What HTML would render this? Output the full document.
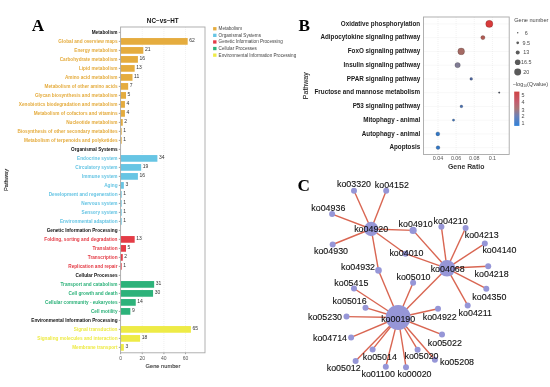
<!DOCTYPE html>
<html><head><meta charset="utf-8"><style>
html,body{margin:0;padding:0;background:#fff;width:550px;height:387px;overflow:hidden}
svg{display:block;will-change:transform}
text{font-family:"Liberation Sans",sans-serif;dominant-baseline:central}
.lab{font-size:4.7px;font-weight:bold;text-anchor:end}
.num{font-size:5px;fill:#333}
.tick{font-size:5px;fill:#555}
.axt{font-size:5.7px;fill:#333;stroke:#333;stroke-width:0.1px}
.axt2{font-size:5.8px;fill:#222;stroke:#222;stroke-width:0.12px}
.title{font-size:6.3px;font-weight:bold;fill:#111}
.leg{font-size:4.6px;fill:#444}
.pl{font-family:"Liberation Serif",serif;font-weight:bold;font-size:17.2px;fill:#000;dominant-baseline:alphabetic}
.blab{font-size:6.3px;font-weight:bold;fill:#1a1a1a;text-anchor:end}
.btick{font-size:5.4px;fill:#555}
.baxt{font-size:6.9px;font-weight:bold;fill:#333}
.baxt2{font-size:7px;fill:#222;stroke:#222;stroke-width:0.1px}
.bleg{font-size:5.6px;fill:#444}
.bleg2{font-size:5.4px;fill:#4a4a4a}
.net{font-size:8.9px;fill:#111;stroke:#111;stroke-width:0.12px}
</style></head><body>
<svg width="550" height="387" viewBox="0 0 550 387">
<rect width="550" height="387" fill="#fff"/>
<line x1="142.24" y1="27.0" x2="142.24" y2="352.8" stroke="#e2e2e2" stroke-width="0.5" stroke-dasharray="1 1"/>
<line x1="163.88" y1="27.0" x2="163.88" y2="352.8" stroke="#e2e2e2" stroke-width="0.5" stroke-dasharray="1 1"/>
<line x1="185.52" y1="27.0" x2="185.52" y2="352.8" stroke="#e2e2e2" stroke-width="0.5" stroke-dasharray="1 1"/>
<text x="117.5" y="32.90" class="lab" fill="#111">Metabolism</text>
<line x1="118.8" y1="32.40" x2="120.6" y2="32.40" stroke="#444" stroke-width="0.5"/>
<rect x="120.6" y="38.05" width="67.08" height="6.7" fill="#e5ac3e"/>
<text x="189.28" y="39.90" class="num">62</text>
<text x="117.5" y="41.90" class="lab" fill="#e5ac3e">Global and overview maps</text>
<line x1="118.8" y1="41.40" x2="120.6" y2="41.40" stroke="#444" stroke-width="0.5"/>
<rect x="120.6" y="47.05" width="22.72" height="6.7" fill="#e5ac3e"/>
<text x="144.92" y="48.90" class="num">21</text>
<text x="117.5" y="50.90" class="lab" fill="#e5ac3e">Energy metabolism</text>
<line x1="118.8" y1="50.40" x2="120.6" y2="50.40" stroke="#444" stroke-width="0.5"/>
<rect x="120.6" y="56.05" width="17.31" height="6.7" fill="#e5ac3e"/>
<text x="139.51" y="57.90" class="num">16</text>
<text x="117.5" y="59.90" class="lab" fill="#e5ac3e">Carbohydrate metabolism</text>
<line x1="118.8" y1="59.40" x2="120.6" y2="59.40" stroke="#444" stroke-width="0.5"/>
<rect x="120.6" y="65.05" width="14.07" height="6.7" fill="#e5ac3e"/>
<text x="136.27" y="66.90" class="num">13</text>
<text x="117.5" y="68.90" class="lab" fill="#e5ac3e">Lipid metabolism</text>
<line x1="118.8" y1="68.40" x2="120.6" y2="68.40" stroke="#444" stroke-width="0.5"/>
<rect x="120.6" y="74.05" width="11.90" height="6.7" fill="#e5ac3e"/>
<text x="134.10" y="75.90" class="num">11</text>
<text x="117.5" y="77.90" class="lab" fill="#e5ac3e">Amino acid metabolism</text>
<line x1="118.8" y1="77.40" x2="120.6" y2="77.40" stroke="#444" stroke-width="0.5"/>
<rect x="120.6" y="83.05" width="7.57" height="6.7" fill="#e5ac3e"/>
<text x="129.77" y="84.90" class="num">7</text>
<text x="117.5" y="86.90" class="lab" fill="#e5ac3e">Metabolism of other amino acids</text>
<line x1="118.8" y1="86.40" x2="120.6" y2="86.40" stroke="#444" stroke-width="0.5"/>
<rect x="120.6" y="92.05" width="5.41" height="6.7" fill="#e5ac3e"/>
<text x="127.61" y="93.90" class="num">5</text>
<text x="117.5" y="95.90" class="lab" fill="#e5ac3e">Glycan biosynthesis and metabolism</text>
<line x1="118.8" y1="95.40" x2="120.6" y2="95.40" stroke="#444" stroke-width="0.5"/>
<rect x="120.6" y="101.05" width="4.33" height="6.7" fill="#e5ac3e"/>
<text x="126.53" y="102.90" class="num">4</text>
<text x="117.5" y="104.90" class="lab" fill="#e5ac3e">Xenobiotics biodegradation and metabolism</text>
<line x1="118.8" y1="104.40" x2="120.6" y2="104.40" stroke="#444" stroke-width="0.5"/>
<rect x="120.6" y="110.05" width="4.33" height="6.7" fill="#e5ac3e"/>
<text x="126.53" y="111.90" class="num">4</text>
<text x="117.5" y="113.90" class="lab" fill="#e5ac3e">Metabolism of cofactors and vitamins</text>
<line x1="118.8" y1="113.40" x2="120.6" y2="113.40" stroke="#444" stroke-width="0.5"/>
<rect x="120.6" y="119.05" width="2.16" height="6.7" fill="#e5ac3e"/>
<text x="124.36" y="120.90" class="num">2</text>
<text x="117.5" y="122.90" class="lab" fill="#e5ac3e">Nucleotide metabolism</text>
<line x1="118.8" y1="122.40" x2="120.6" y2="122.40" stroke="#444" stroke-width="0.5"/>
<rect x="120.6" y="128.05" width="1.08" height="6.7" fill="#e5ac3e"/>
<text x="123.28" y="129.90" class="num">1</text>
<text x="117.5" y="131.90" class="lab" fill="#e5ac3e">Biosynthesis of other secondary metabolites</text>
<line x1="118.8" y1="131.40" x2="120.6" y2="131.40" stroke="#444" stroke-width="0.5"/>
<rect x="120.6" y="137.05" width="1.08" height="6.7" fill="#e5ac3e"/>
<text x="123.28" y="138.90" class="num">1</text>
<text x="117.5" y="140.90" class="lab" fill="#e5ac3e">Metabolism of terpenoids and polyketides</text>
<line x1="118.8" y1="140.40" x2="120.6" y2="140.40" stroke="#444" stroke-width="0.5"/>
<text x="117.5" y="149.90" class="lab" fill="#111">Organismal Systems</text>
<line x1="118.8" y1="149.40" x2="120.6" y2="149.40" stroke="#444" stroke-width="0.5"/>
<rect x="120.6" y="155.05" width="36.79" height="6.7" fill="#67c5e4"/>
<text x="158.99" y="156.90" class="num">34</text>
<text x="117.5" y="158.90" class="lab" fill="#67c5e4">Endocrine system</text>
<line x1="118.8" y1="158.40" x2="120.6" y2="158.40" stroke="#444" stroke-width="0.5"/>
<rect x="120.6" y="164.05" width="20.56" height="6.7" fill="#67c5e4"/>
<text x="142.76" y="165.90" class="num">19</text>
<text x="117.5" y="167.90" class="lab" fill="#67c5e4">Circulatory system</text>
<line x1="118.8" y1="167.40" x2="120.6" y2="167.40" stroke="#444" stroke-width="0.5"/>
<rect x="120.6" y="173.05" width="17.31" height="6.7" fill="#67c5e4"/>
<text x="139.51" y="174.90" class="num">16</text>
<text x="117.5" y="176.90" class="lab" fill="#67c5e4">Immune system</text>
<line x1="118.8" y1="176.40" x2="120.6" y2="176.40" stroke="#444" stroke-width="0.5"/>
<rect x="120.6" y="182.05" width="3.25" height="6.7" fill="#67c5e4"/>
<text x="125.45" y="183.90" class="num">3</text>
<text x="117.5" y="185.90" class="lab" fill="#67c5e4">Aging</text>
<line x1="118.8" y1="185.40" x2="120.6" y2="185.40" stroke="#444" stroke-width="0.5"/>
<rect x="120.6" y="191.05" width="1.08" height="6.7" fill="#67c5e4"/>
<text x="123.28" y="192.90" class="num">1</text>
<text x="117.5" y="194.90" class="lab" fill="#67c5e4">Development and regeneration</text>
<line x1="118.8" y1="194.40" x2="120.6" y2="194.40" stroke="#444" stroke-width="0.5"/>
<rect x="120.6" y="200.05" width="1.08" height="6.7" fill="#67c5e4"/>
<text x="123.28" y="201.90" class="num">1</text>
<text x="117.5" y="203.90" class="lab" fill="#67c5e4">Nervous system</text>
<line x1="118.8" y1="203.40" x2="120.6" y2="203.40" stroke="#444" stroke-width="0.5"/>
<rect x="120.6" y="209.05" width="1.08" height="6.7" fill="#67c5e4"/>
<text x="123.28" y="210.90" class="num">1</text>
<text x="117.5" y="212.90" class="lab" fill="#67c5e4">Sensory system</text>
<line x1="118.8" y1="212.40" x2="120.6" y2="212.40" stroke="#444" stroke-width="0.5"/>
<rect x="120.6" y="218.05" width="1.08" height="6.7" fill="#67c5e4"/>
<text x="123.28" y="219.90" class="num">1</text>
<text x="117.5" y="221.90" class="lab" fill="#67c5e4">Environmental adaptation</text>
<line x1="118.8" y1="221.40" x2="120.6" y2="221.40" stroke="#444" stroke-width="0.5"/>
<text x="117.5" y="230.90" class="lab" fill="#111">Genetic Information Processing</text>
<line x1="118.8" y1="230.40" x2="120.6" y2="230.40" stroke="#444" stroke-width="0.5"/>
<rect x="120.6" y="236.05" width="14.07" height="6.7" fill="#e43c46"/>
<text x="136.27" y="237.90" class="num">13</text>
<text x="117.5" y="239.90" class="lab" fill="#e43c46">Folding, sorting and degradation</text>
<line x1="118.8" y1="239.40" x2="120.6" y2="239.40" stroke="#444" stroke-width="0.5"/>
<rect x="120.6" y="245.05" width="5.41" height="6.7" fill="#e43c46"/>
<text x="127.61" y="246.90" class="num">5</text>
<text x="117.5" y="248.90" class="lab" fill="#e43c46">Translation</text>
<line x1="118.8" y1="248.40" x2="120.6" y2="248.40" stroke="#444" stroke-width="0.5"/>
<rect x="120.6" y="254.05" width="2.16" height="6.7" fill="#e43c46"/>
<text x="124.36" y="255.90" class="num">2</text>
<text x="117.5" y="257.90" class="lab" fill="#e43c46">Transcription</text>
<line x1="118.8" y1="257.40" x2="120.6" y2="257.40" stroke="#444" stroke-width="0.5"/>
<rect x="120.6" y="263.05" width="1.08" height="6.7" fill="#e43c46"/>
<text x="123.28" y="264.90" class="num">1</text>
<text x="117.5" y="266.90" class="lab" fill="#e43c46">Replication and repair</text>
<line x1="118.8" y1="266.40" x2="120.6" y2="266.40" stroke="#444" stroke-width="0.5"/>
<text x="117.5" y="275.90" class="lab" fill="#111">Cellular Processes</text>
<line x1="118.8" y1="275.40" x2="120.6" y2="275.40" stroke="#444" stroke-width="0.5"/>
<rect x="120.6" y="281.05" width="33.54" height="6.7" fill="#2db27a"/>
<text x="155.74" y="282.90" class="num">31</text>
<text x="117.5" y="284.90" class="lab" fill="#2db27a">Transport and catabolism</text>
<line x1="118.8" y1="284.40" x2="120.6" y2="284.40" stroke="#444" stroke-width="0.5"/>
<rect x="120.6" y="290.05" width="32.46" height="6.7" fill="#2db27a"/>
<text x="154.66" y="291.90" class="num">30</text>
<text x="117.5" y="293.90" class="lab" fill="#2db27a">Cell growth and death</text>
<line x1="118.8" y1="293.40" x2="120.6" y2="293.40" stroke="#444" stroke-width="0.5"/>
<rect x="120.6" y="299.05" width="15.15" height="6.7" fill="#2db27a"/>
<text x="137.35" y="300.90" class="num">14</text>
<text x="117.5" y="302.90" class="lab" fill="#2db27a">Cellular community - eukaryotes</text>
<line x1="118.8" y1="302.40" x2="120.6" y2="302.40" stroke="#444" stroke-width="0.5"/>
<rect x="120.6" y="308.05" width="9.74" height="6.7" fill="#2db27a"/>
<text x="131.94" y="309.90" class="num">9</text>
<text x="117.5" y="311.90" class="lab" fill="#2db27a">Cell motility</text>
<line x1="118.8" y1="311.40" x2="120.6" y2="311.40" stroke="#444" stroke-width="0.5"/>
<text x="117.5" y="320.90" class="lab" fill="#111">Environmental Information Processing</text>
<line x1="118.8" y1="320.40" x2="120.6" y2="320.40" stroke="#444" stroke-width="0.5"/>
<rect x="120.6" y="326.05" width="70.33" height="6.7" fill="#eeeb46"/>
<text x="192.53" y="327.90" class="num">65</text>
<text x="117.5" y="329.90" class="lab" fill="#eeeb46">Signal transduction</text>
<line x1="118.8" y1="329.40" x2="120.6" y2="329.40" stroke="#444" stroke-width="0.5"/>
<rect x="120.6" y="335.05" width="19.48" height="6.7" fill="#eeeb46"/>
<text x="141.68" y="336.90" class="num">18</text>
<text x="117.5" y="338.90" class="lab" fill="#eeeb46">Signaling molecules and interaction</text>
<line x1="118.8" y1="338.40" x2="120.6" y2="338.40" stroke="#444" stroke-width="0.5"/>
<rect x="120.6" y="344.05" width="3.25" height="6.7" fill="#eeeb46"/>
<text x="125.45" y="345.90" class="num">3</text>
<text x="117.5" y="347.90" class="lab" fill="#eeeb46">Membrane transport</text>
<line x1="118.8" y1="347.40" x2="120.6" y2="347.40" stroke="#444" stroke-width="0.5"/>
<rect x="120.6" y="27.0" width="84.4" height="325.8" fill="none" stroke="#a8a8a8" stroke-width="0.9"/>
<line x1="120.60" y1="352.8" x2="120.60" y2="354.2" stroke="#555" stroke-width="0.5"/>
<text x="120.60" y="358.3" class="tick" text-anchor="middle">0</text>
<line x1="142.24" y1="352.8" x2="142.24" y2="354.2" stroke="#555" stroke-width="0.5"/>
<text x="142.24" y="358.3" class="tick" text-anchor="middle">20</text>
<line x1="163.88" y1="352.8" x2="163.88" y2="354.2" stroke="#555" stroke-width="0.5"/>
<text x="163.88" y="358.3" class="tick" text-anchor="middle">40</text>
<line x1="185.52" y1="352.8" x2="185.52" y2="354.2" stroke="#555" stroke-width="0.5"/>
<text x="185.52" y="358.3" class="tick" text-anchor="middle">60</text>
<text x="163" y="366.4" class="axt" text-anchor="middle">Gene number</text>
<text x="162.8" y="20.8" class="title" text-anchor="middle">NC−vs−HT</text>
<text x="6.2" y="180" class="axt2" text-anchor="middle" transform="rotate(-90 6.2 180)">Pathway</text>
<rect x="213.1" y="27.10" width="3.4" height="3.3" fill="#e5ac3e"/>
<text x="218.6" y="28.70" class="leg">Metabolism</text>
<rect x="213.1" y="33.70" width="3.4" height="3.3" fill="#67c5e4"/>
<text x="218.6" y="35.30" class="leg">Organismal Systems</text>
<rect x="213.1" y="40.30" width="3.4" height="3.3" fill="#e43c46"/>
<text x="218.6" y="41.90" class="leg">Genetic Information Processing</text>
<rect x="213.1" y="46.90" width="3.4" height="3.3" fill="#2db27a"/>
<text x="218.6" y="48.50" class="leg">Cellular Processes</text>
<rect x="213.1" y="53.50" width="3.4" height="3.3" fill="#eeeb46"/>
<text x="218.6" y="55.10" class="leg">Environmental Information Processing</text>
<text x="31.8" y="31.0" class="pl">A</text>
<line x1="438.00" y1="17.0" x2="438.00" y2="154.5" stroke="#e2e2e2" stroke-width="0.5" stroke-dasharray="1 1"/>
<line x1="456.13" y1="17.0" x2="456.13" y2="154.5" stroke="#e2e2e2" stroke-width="0.5" stroke-dasharray="1 1"/>
<line x1="474.26" y1="17.0" x2="474.26" y2="154.5" stroke="#e2e2e2" stroke-width="0.5" stroke-dasharray="1 1"/>
<line x1="492.39" y1="17.0" x2="492.39" y2="154.5" stroke="#e2e2e2" stroke-width="0.5" stroke-dasharray="1 1"/>
<line x1="423.5" y1="23.88" x2="509.2" y2="23.88" stroke="#e2e2e2" stroke-width="0.5" stroke-dasharray="1 1"/>
<text x="420.2" y="23.07" class="blab">Oxidative phosphorylation</text>
<line x1="423.5" y1="37.62" x2="509.2" y2="37.62" stroke="#e2e2e2" stroke-width="0.5" stroke-dasharray="1 1"/>
<text x="420.2" y="36.83" class="blab">Adipocytokine signaling pathway</text>
<line x1="423.5" y1="51.38" x2="509.2" y2="51.38" stroke="#e2e2e2" stroke-width="0.5" stroke-dasharray="1 1"/>
<text x="420.2" y="50.58" class="blab">FoxO signaling pathway</text>
<line x1="423.5" y1="65.12" x2="509.2" y2="65.12" stroke="#e2e2e2" stroke-width="0.5" stroke-dasharray="1 1"/>
<text x="420.2" y="64.33" class="blab">Insulin signaling pathway</text>
<line x1="423.5" y1="78.88" x2="509.2" y2="78.88" stroke="#e2e2e2" stroke-width="0.5" stroke-dasharray="1 1"/>
<text x="420.2" y="78.08" class="blab">PPAR signaling pathway</text>
<line x1="423.5" y1="92.62" x2="509.2" y2="92.62" stroke="#e2e2e2" stroke-width="0.5" stroke-dasharray="1 1"/>
<text x="420.2" y="91.83" class="blab">Fructose and mannose metabolism</text>
<line x1="423.5" y1="106.38" x2="509.2" y2="106.38" stroke="#e2e2e2" stroke-width="0.5" stroke-dasharray="1 1"/>
<text x="420.2" y="105.58" class="blab">P53 signaling pathway</text>
<line x1="423.5" y1="120.12" x2="509.2" y2="120.12" stroke="#e2e2e2" stroke-width="0.5" stroke-dasharray="1 1"/>
<text x="420.2" y="119.33" class="blab">Mitophagy - animal</text>
<line x1="423.5" y1="133.88" x2="509.2" y2="133.88" stroke="#e2e2e2" stroke-width="0.5" stroke-dasharray="1 1"/>
<text x="420.2" y="133.07" class="blab">Autophagy - animal</text>
<line x1="423.5" y1="147.62" x2="509.2" y2="147.62" stroke="#e2e2e2" stroke-width="0.5" stroke-dasharray="1 1"/>
<text x="420.2" y="146.82" class="blab">Apoptosis</text>
<circle cx="489.3" cy="23.88" r="3.6" fill="#d83a3a" stroke="#00000055" stroke-width="0.5"/>
<circle cx="482.9" cy="37.62" r="2.1" fill="#b05a52" stroke="#00000055" stroke-width="0.5"/>
<circle cx="461.2" cy="51.38" r="3.4" fill="#a56a64" stroke="#00000055" stroke-width="0.5"/>
<circle cx="457.6" cy="65.12" r="2.7" fill="#807c94" stroke="#00000055" stroke-width="0.5"/>
<circle cx="471.2" cy="78.88" r="1.4" fill="#5068a2" stroke="#00000055" stroke-width="0.5"/>
<circle cx="499.2" cy="92.62" r="0.8" fill="#404858" stroke="#00000055" stroke-width="0.5"/>
<circle cx="461.4" cy="106.38" r="1.4" fill="#4a70b0" stroke="#00000055" stroke-width="0.5"/>
<circle cx="453.5" cy="120.12" r="1.2" fill="#3f72b8" stroke="#00000055" stroke-width="0.5"/>
<circle cx="437.8" cy="133.88" r="2.0" fill="#3277c6" stroke="#00000055" stroke-width="0.5"/>
<circle cx="438.0" cy="147.62" r="1.9" fill="#3277c6" stroke="#00000055" stroke-width="0.5"/>
<rect x="423.5" y="17.0" width="85.70" height="137.5" fill="none" stroke="#a8a8a8" stroke-width="0.9"/>
<text x="438.00" y="158.2" class="btick" text-anchor="middle">0.04</text>
<text x="456.13" y="158.2" class="btick" text-anchor="middle">0.06</text>
<text x="474.26" y="158.2" class="btick" text-anchor="middle">0.08</text>
<text x="492.39" y="158.2" class="btick" text-anchor="middle">0.1</text>
<text x="466.2" y="166.4" class="baxt" text-anchor="middle">Gene Ratio</text>
<text x="305.6" y="85.7" class="baxt2" text-anchor="middle" transform="rotate(-90 305.6 85.7)">Pathway</text>
<text x="514.2" y="20.2" class="bleg">Gene number</text>
<circle cx="517.7" cy="32.7" r="0.75" fill="#5a5a5a"/>
<text x="526.2" y="32.7" class="bleg2" text-anchor="middle">6</text>
<circle cx="517.7" cy="42.8" r="1.35" fill="#5a5a5a"/>
<text x="526.2" y="42.8" class="bleg2" text-anchor="middle">9.5</text>
<circle cx="517.7" cy="52.4" r="2.0" fill="#5a5a5a"/>
<text x="526.2" y="52.4" class="bleg2" text-anchor="middle">13</text>
<circle cx="517.7" cy="62.2" r="2.8" fill="#5a5a5a"/>
<text x="526.2" y="62.2" class="bleg2" text-anchor="middle">16.5</text>
<circle cx="517.7" cy="72.0" r="3.45" fill="#5a5a5a"/>
<text x="526.2" y="72.0" class="bleg2" text-anchor="middle">20</text>
<text x="512.7" y="84.3" class="bleg" style="font-size:5.5px">−log<tspan font-size="3.4" dy="1.7">10</tspan><tspan dy="-1.7">(Qvalue)</tspan></text>
<defs><linearGradient id="cb" x1="0" y1="0" x2="0" y2="1"><stop offset="0" stop-color="#d04444"/><stop offset="0.3" stop-color="#c45c6e"/><stop offset="0.5" stop-color="#a97678"/><stop offset="0.72" stop-color="#6a80b8"/><stop offset="1" stop-color="#3181d8"/></linearGradient></defs>
<rect x="514.2" y="91.6" width="5.2" height="34.3" fill="url(#cb)"/>
<text x="521.4" y="95.2" class="bleg2">5</text>
<text x="521.4" y="102.4" class="bleg2">4</text>
<text x="521.4" y="109.7" class="bleg2">3</text>
<text x="521.4" y="116.3" class="bleg2">2</text>
<text x="521.4" y="123.1" class="bleg2">1</text>
<text x="298.6" y="31.2" class="pl">B</text>
<text x="297.5" y="190.6" class="pl">C</text>
<line x1="371.2" y1="229.0" x2="354.0" y2="190.8" stroke="#d96652" stroke-width="1.4"/>
<line x1="371.2" y1="229.0" x2="386.2" y2="190.8" stroke="#d96652" stroke-width="1.4"/>
<line x1="371.2" y1="229.0" x2="332.1" y2="214.1" stroke="#d96652" stroke-width="1.4"/>
<line x1="371.2" y1="229.0" x2="332.7" y2="244.5" stroke="#d96652" stroke-width="1.4"/>
<line x1="371.2" y1="229.0" x2="378.5" y2="270.4" stroke="#d96652" stroke-width="1.4"/>
<line x1="371.2" y1="229.0" x2="413.1" y2="230.4" stroke="#d96652" stroke-width="1.4"/>
<line x1="371.2" y1="229.0" x2="405.5" y2="253.7" stroke="#d96652" stroke-width="1.4"/>
<line x1="447.0" y1="268.3" x2="413.1" y2="230.4" stroke="#d96652" stroke-width="1.4"/>
<line x1="447.0" y1="268.3" x2="405.5" y2="253.7" stroke="#d96652" stroke-width="1.4"/>
<line x1="447.0" y1="268.3" x2="441.4" y2="226.8" stroke="#d96652" stroke-width="1.4"/>
<line x1="447.0" y1="268.3" x2="465.6" y2="228.0" stroke="#d96652" stroke-width="1.4"/>
<line x1="447.0" y1="268.3" x2="484.8" y2="243.6" stroke="#d96652" stroke-width="1.4"/>
<line x1="447.0" y1="268.3" x2="488.2" y2="266.2" stroke="#d96652" stroke-width="1.4"/>
<line x1="447.0" y1="268.3" x2="486.3" y2="288.7" stroke="#d96652" stroke-width="1.4"/>
<line x1="447.0" y1="268.3" x2="467.7" y2="305.4" stroke="#d96652" stroke-width="1.4"/>
<line x1="447.0" y1="268.3" x2="398.2" y2="317.5" stroke="#d96652" stroke-width="1.4"/>
<line x1="398.2" y1="317.5" x2="378.5" y2="270.4" stroke="#d96652" stroke-width="1.4"/>
<line x1="398.2" y1="317.5" x2="413.1" y2="282.8" stroke="#d96652" stroke-width="1.4"/>
<line x1="398.2" y1="317.5" x2="354.0" y2="288.5" stroke="#d96652" stroke-width="1.4"/>
<line x1="398.2" y1="317.5" x2="365.5" y2="307.7" stroke="#d96652" stroke-width="1.4"/>
<line x1="398.2" y1="317.5" x2="346.5" y2="316.6" stroke="#d96652" stroke-width="1.4"/>
<line x1="398.2" y1="317.5" x2="351.1" y2="337.4" stroke="#d96652" stroke-width="1.4"/>
<line x1="398.2" y1="317.5" x2="372.6" y2="349.4" stroke="#d96652" stroke-width="1.4"/>
<line x1="398.2" y1="317.5" x2="355.6" y2="361.0" stroke="#d96652" stroke-width="1.4"/>
<line x1="398.2" y1="317.5" x2="385.8" y2="366.7" stroke="#d96652" stroke-width="1.4"/>
<line x1="398.2" y1="317.5" x2="406.0" y2="367.2" stroke="#d96652" stroke-width="1.4"/>
<line x1="398.2" y1="317.5" x2="417.6" y2="349.7" stroke="#d96652" stroke-width="1.4"/>
<line x1="398.2" y1="317.5" x2="434.9" y2="359.8" stroke="#d96652" stroke-width="1.4"/>
<line x1="398.2" y1="317.5" x2="442.0" y2="334.6" stroke="#d96652" stroke-width="1.4"/>
<line x1="398.2" y1="317.5" x2="438.0" y2="308.8" stroke="#d96652" stroke-width="1.4"/>
<circle cx="354.0" cy="190.8" r="3.0" fill="#9696d7"/>
<circle cx="386.2" cy="190.8" r="3.0" fill="#9696d7"/>
<circle cx="332.1" cy="214.1" r="3.0" fill="#9696d7"/>
<circle cx="332.7" cy="244.5" r="3.0" fill="#9696d7"/>
<circle cx="378.5" cy="270.4" r="3.3" fill="#9696d7"/>
<circle cx="413.1" cy="230.4" r="3.6" fill="#9696d7"/>
<circle cx="405.5" cy="253.7" r="3.0" fill="#9696d7"/>
<circle cx="441.4" cy="226.8" r="3.0" fill="#9696d7"/>
<circle cx="465.6" cy="228.0" r="3.0" fill="#9696d7"/>
<circle cx="484.8" cy="243.6" r="3.0" fill="#9696d7"/>
<circle cx="488.2" cy="266.2" r="3.0" fill="#9696d7"/>
<circle cx="486.3" cy="288.7" r="3.0" fill="#9696d7"/>
<circle cx="467.7" cy="305.4" r="3.0" fill="#9696d7"/>
<circle cx="413.1" cy="282.8" r="3.0" fill="#9696d7"/>
<circle cx="354.0" cy="288.5" r="3.0" fill="#9696d7"/>
<circle cx="365.5" cy="307.7" r="3.0" fill="#9696d7"/>
<circle cx="346.5" cy="316.6" r="3.0" fill="#9696d7"/>
<circle cx="351.1" cy="337.4" r="3.0" fill="#9696d7"/>
<circle cx="372.6" cy="349.4" r="3.0" fill="#9696d7"/>
<circle cx="355.6" cy="361.0" r="3.0" fill="#9696d7"/>
<circle cx="385.8" cy="366.7" r="3.0" fill="#9696d7"/>
<circle cx="406.0" cy="367.2" r="3.0" fill="#9696d7"/>
<circle cx="417.6" cy="349.7" r="3.0" fill="#9696d7"/>
<circle cx="434.9" cy="359.8" r="3.0" fill="#9696d7"/>
<circle cx="442.0" cy="334.6" r="3.0" fill="#9696d7"/>
<circle cx="438.0" cy="308.8" r="3.0" fill="#9696d7"/>
<circle cx="371.2" cy="229.0" r="7.2" fill="#9696d7"/>
<circle cx="447.0" cy="268.3" r="8.3" fill="#9696d7"/>
<circle cx="398.2" cy="317.5" r="12.5" fill="#9696d7"/>
<text x="337.00" y="184.40" class="net">ko03320</text>
<text x="374.80" y="185.20" class="net">ko04152</text>
<text x="311.30" y="207.70" class="net">ko04936</text>
<text x="314.00" y="251.00" class="net">ko04930</text>
<text x="341.00" y="266.60" class="net">ko04932</text>
<text x="398.60" y="224.10" class="net">ko04910</text>
<text x="389.40" y="253.10" class="net">ko04010</text>
<text x="433.60" y="220.80" class="net">ko04210</text>
<text x="464.70" y="235.10" class="net">ko04213</text>
<text x="482.40" y="249.80" class="net">ko04140</text>
<text x="474.60" y="273.50" class="net">ko04218</text>
<text x="472.30" y="296.60" class="net">ko04350</text>
<text x="458.60" y="313.20" class="net">ko04211</text>
<text x="396.50" y="276.50" class="net">ko05010</text>
<text x="334.30" y="282.90" class="net">ko05415</text>
<text x="332.60" y="301.40" class="net">ko05016</text>
<text x="308.00" y="316.60" class="net">ko05230</text>
<text x="313.00" y="337.50" class="net">ko04714</text>
<text x="362.80" y="357.40" class="net">ko05014</text>
<text x="326.70" y="368.10" class="net">ko05012</text>
<text x="361.50" y="374.30" class="net">ko01100</text>
<text x="397.50" y="374.40" class="net">ko00020</text>
<text x="404.50" y="356.20" class="net">ko05020</text>
<text x="440.00" y="362.30" class="net">ko05208</text>
<text x="427.80" y="342.60" class="net">ko05022</text>
<text x="422.70" y="317.10" class="net">ko04922</text>
<text x="371.20" y="228.70" class="net" text-anchor="middle">ko04920</text>
<text x="447.70" y="269.20" class="net" text-anchor="middle">ko04068</text>
<text x="398.20" y="318.70" class="net" text-anchor="middle">ko00190</text>
</svg>
</body></html>
